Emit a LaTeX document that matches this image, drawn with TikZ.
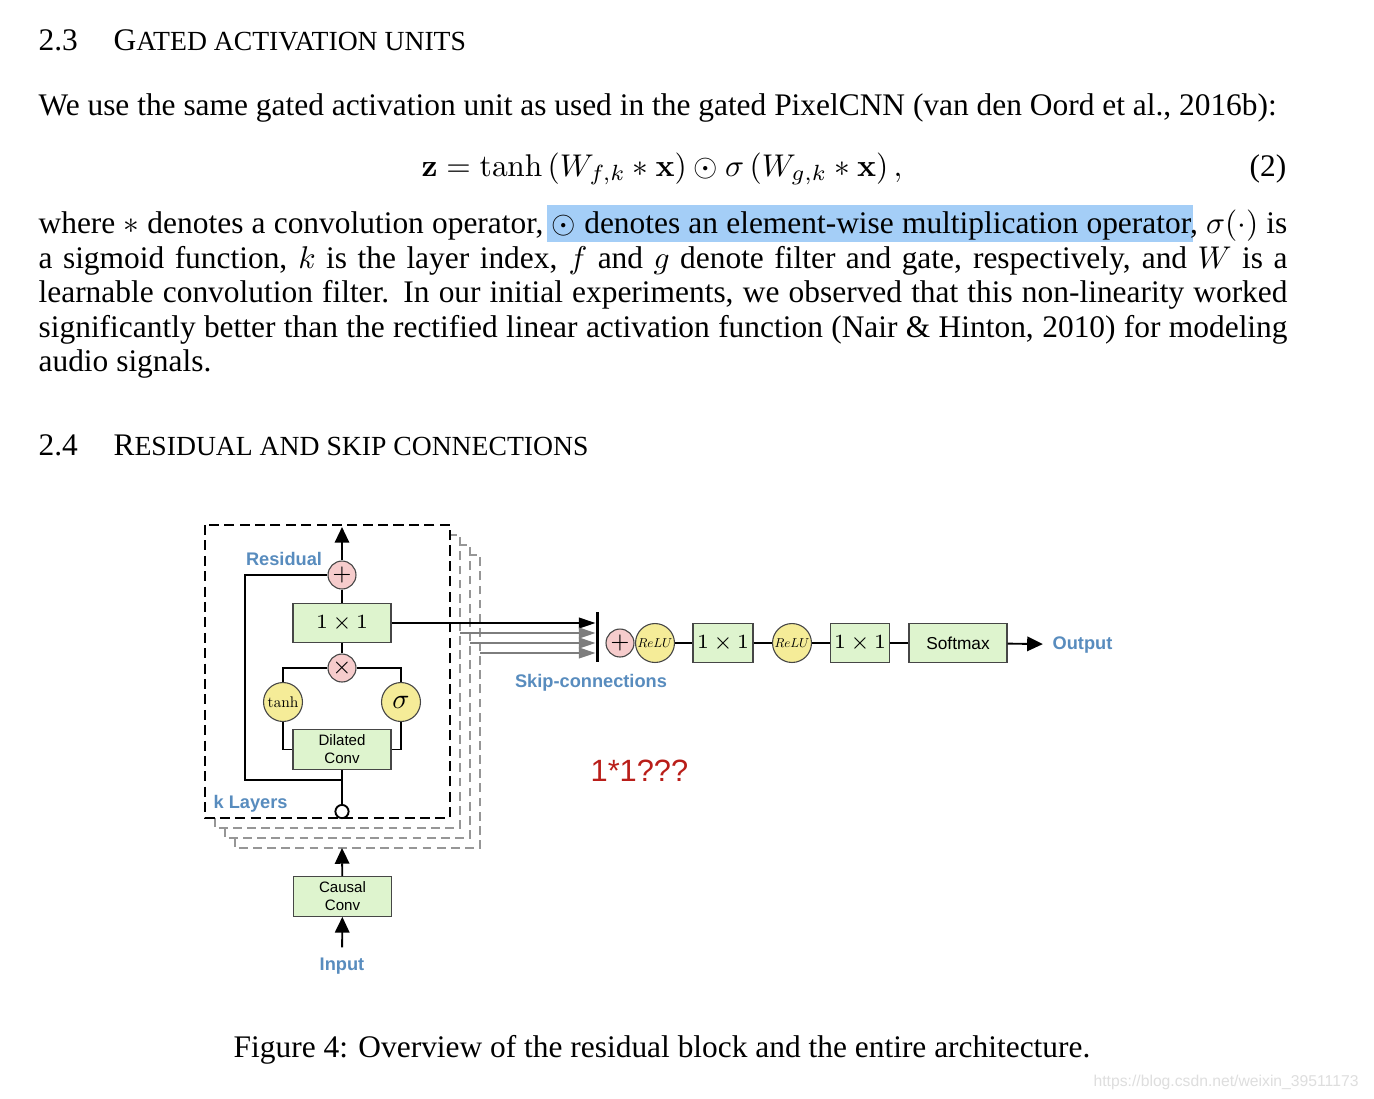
\documentclass[tikz,border=0pt]{standalone}
\usepackage{fix-cm}
\usepackage{graphicx}
\usepackage[no-math]{fontspec}
\setmainfont{Liberation Serif}
\setsansfont{Liberation Sans}
\usetikzlibrary{arrows.meta}

\definecolor{boxfill}{RGB}{222,244,206}
\definecolor{boxline}{RGB}{70,70,70}
\definecolor{opfill}{RGB}{246,204,204}
\definecolor{actfill}{RGB}{245,236,152}
\definecolor{labelblue}{RGB}{88,140,190}
\definecolor{stackgray}{RGB}{150,150,150}
\definecolor{skipgray}{RGB}{125,125,125}
\definecolor{selblue}{RGB}{164,206,247}
\definecolor{notered}{RGB}{185,30,25}
\definecolor{markgray}{RGB}{222,222,222}

\newcommand{\hsc}[1]{{\fontsize{8.8}{10}\selectfont #1}}
\newcommand{\jline}[1]{\hbox to 397.5pt{#1}}
\newcommand{\onebyone}{$1\,{\times}\,1$}

\tikzset{
  bodytext/.style={anchor=base west, inner sep=0pt, font=\fontsize{10}{11}\selectfont},
  convbox/.style={draw=boxline, fill=boxfill, line width=0.35pt, minimum width=31.2pt, minimum height=12.6pt, inner sep=0pt, align=center, font=\sffamily\fontsize{4.8}{5.7}\selectfont},
  addop/.style={circle, draw=boxline, fill=opfill, line width=0.35pt, minimum size=8.9pt, inner sep=0pt, font=\fontsize{7}{7}\selectfont},
  actop/.style={circle, draw=boxline, fill=actfill, line width=0.35pt, minimum size=12.4pt, inner sep=0pt, font=\fontsize{10}{10}\selectfont},
  wire/.style={line width=0.6pt},
  bluelabel/.style={anchor=base, inner sep=0pt, text=labelblue, font=\sffamily\bfseries\fontsize{5.8}{6}\selectfont},
  stackbox/.style={draw=stackgray, fill=white, line width=0.55pt, dash pattern=on 2.8pt off 1.7pt},
  frontbox/.style={draw=black, fill=white, line width=0.8pt, dash pattern=on 3.2pt off 1.7pt},
  bigtip/.style={-{Triangle[length=5pt,width=4.6pt]}},
  skiptip/.style={-{Triangle[length=5.3pt,width=3.4pt]}},
}

\begin{document}
\begin{tikzpicture}[x=0.3183pt,y=0.3183pt,yscale=-1]
\useasboundingbox (0,0) rectangle (1374,1098);
\fill[white] (0,0) rectangle (1374,1098);

% Section 2.3
\node[bodytext] (num23) at (38,50) {2.3};
\node[bodytext] (head23) at (113,50) {G\hsc{ATED ACTIVATION UNITS}};
\node[bodytext] (intro) at (38,115) {We use the same gated activation unit as used in the gated PixelCNN (van den Oord et al., 2016b):};
\node[bodytext] (eqn) at (662,176) [anchor=base] {$\displaystyle \mathbf{z} = \tanh\left(W_{f,k} * \mathbf{x}\right) \odot \sigma\left(W_{g,k} * \mathbf{x}\right),$};
\node[bodytext, anchor=base east] (eqnum) at (1287,176) {(2)};

% selection mark
\fill[selblue] (547,205) rectangle (1193,242);

\node[bodytext] (par1) at (38,233) {\jline{where $*$ denotes a convolution operator, $\odot$ denotes an element-wise multiplication operator, $\sigma(\cdot)$ is}};
\node[bodytext] (par2) at (38,268) {\jline{a sigmoid function, $k$ is the layer index, $f$ and $g$ denote filter and gate, respectively, and $W$ is a}};
\node[bodytext] (par3) at (38,302) {\jline{learnable convolution filter. In our initial experiments, we observed that this non-linearity worked}};
\node[bodytext] (par4) at (38,337) {\jline{significantly better than the rectified linear activation function (Nair \& Hinton, 2010) for modeling}};
\node[bodytext] (par5) at (38,371) {audio signals.};

% Section 2.4
\node[bodytext] (num24) at (38,455) {2.4};
\node[bodytext] (head24) at (113,455) {R\hsc{ESIDUAL AND SKIP CONNECTIONS}};

% stacked layers
\foreach \k in {3,2,1}{
  \draw[stackbox] (205+10*\k,525+10*\k) rectangle (450+10*\k,818+10*\k);
}
\draw[frontbox] (205,525) rectangle (450,818);

% residual block
\node[convbox] (dil) at (342,749.5) {Dilated\\Conv};
\node[actop] (tanh) at (283,702) {\scalebox{0.49}{$\tanh$}};
\node[actop] (sig) at (401,702) {\scalebox{0.9}{$\sigma$}};
\node[addop] (mult) at (342,668) {$\times$};
\node[convbox, font=\fontsize{6.4}{6.4}\selectfont] (res1x1) at (342,623) {\onebyone};
\node[addop] (resadd) at (342,575) {$+$};
\node[circle, draw=black, fill=white, line width=0.6pt, minimum size=4.2pt, inner sep=0pt] (tap) at (342,811.5) {};
\coordinate (split) at (342,780);
\coordinate (rescorner) at (245,780);
\coordinate (restip) at (342,527);

\draw[wire] (tap) -- (dil);
\draw[wire] (split) -- (rescorner) |- (resadd);
\draw[wire] (tanh) |- (dil);
\draw[wire] (sig) |- (dil);
\draw[wire] (mult) -| (tanh);
\draw[wire] (mult) -| (sig);
\draw[wire] (mult) -- (res1x1);
\draw[wire] (res1x1) -- (resadd);
\draw[wire, bigtip] (resadd) -- (restip);

\node[bluelabel] (reslbl) at (284,565) {Residual};
\node[bluelabel, anchor=base west] (klbl) at (213,808) {k Layers};

% skip connections
\coordinate (skipend0) at (595.5,623);
\draw[wire, skiptip] (res1x1) -- (skipend0);
\foreach \k/\yy in {1/633,2/643,3/653}{
  \coordinate (skipstart\k) at (450+10*\k,\yy);
  \coordinate (skipend\k) at (595.5,\yy);
  \draw[wire, draw=skipgray, skiptip] (skipstart\k) -- (skipend\k);
}
\coordinate (bartop) at (597.5,612);
\coordinate (barbot) at (597.5,662);
\draw[line width=0.7pt] (bartop) -- (barbot);
\node[bluelabel] (skiplbl) at (591,687) {Skip-connections};

% output stack
\node[addop] (skipsum) at (620,643) {$+$};
\node[actop] (relu1) at (655,643) {\scalebox{0.41}{$ReLU$}};
\node[convbox, minimum width=19.1pt, font=\fontsize{6.4}{6.4}\selectfont] (out1x1a) at (723,643) {\onebyone};
\node[actop] (relu2) at (792,643) {\scalebox{0.41}{$ReLU$}};
\node[convbox, minimum width=18.5pt, font=\fontsize{6.4}{6.4}\selectfont] (out1x1b) at (860,643) {\onebyone};
\node[convbox, font=\sffamily\fontsize{5.5}{6}\selectfont] (soft) at (958,643) {Softmax};
\node[bluelabel, anchor=base west] (outlbl) at (1052,649) {Output};

\draw[wire] (relu1) -- (out1x1a);
\draw[wire] (out1x1a) -- (relu2);
\draw[wire] (relu2) -- (out1x1b);
\draw[wire] (out1x1b) -- (soft);
\draw[wire, bigtip, shorten >=2.9pt] (soft) -- (outlbl);

% input
\node[convbox] (causal) at (342.5,896.5) {Causal\\Conv};
\node[bluelabel] (inlbl) at (342,970) {Input};
\coordinate (stacktip) at (342,848);
\draw[wire, bigtip] (causal) -- (stacktip);
\draw[wire, bigtip, shorten <=3pt] (inlbl) -- (causal);

\node[anchor=base west, inner sep=0pt, text=notered, font=\sffamily\fontsize{9.8}{11}\selectfont] (note) at (590,781.5) {1*1???};

% caption
\node[bodytext, anchor=base] (caption) at (662,1057) {Figure 4: Overview of the residual block and the entire architecture.};
\node[anchor=base west, inner sep=0pt, text=markgray, font=\sffamily\fontsize{5}{6}\selectfont] (mark) at (1093,1086) {https://blog.csdn.net/weixin\_39511173};

\end{tikzpicture}
\end{document}
